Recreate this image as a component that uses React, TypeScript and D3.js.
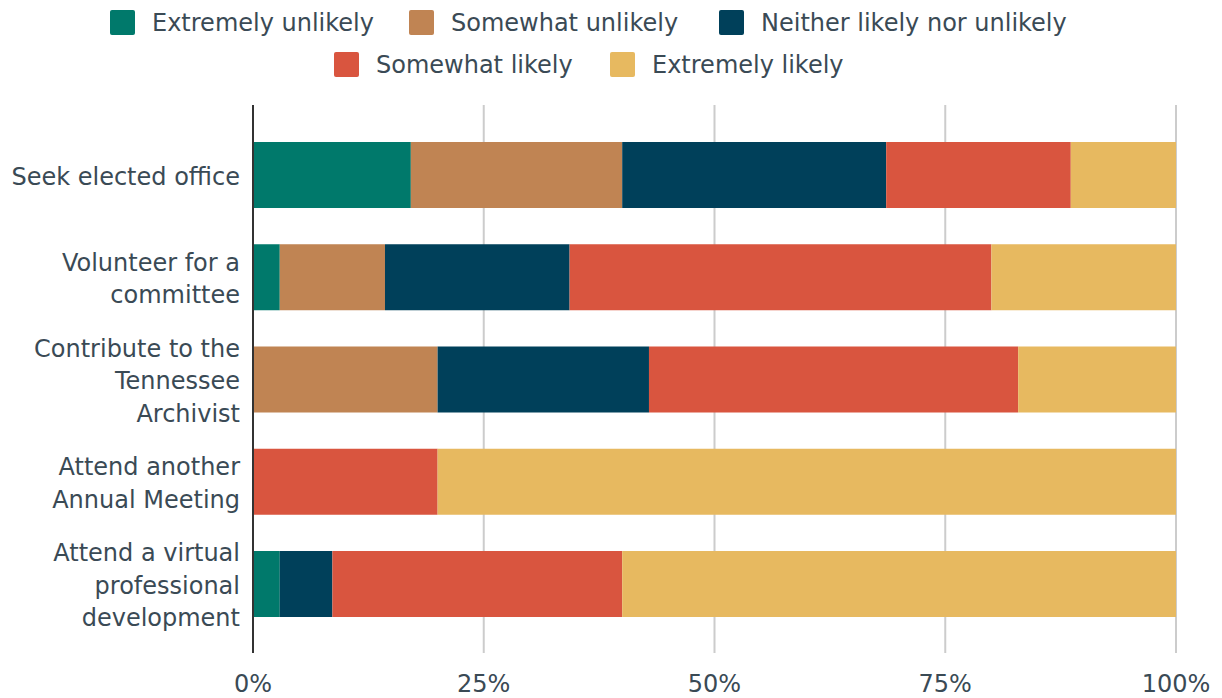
import React from "react";
import * as d3 from "d3";

const categories = [
  "Seek elected office",
  "Volunteer for a committee",
  "Contribute to the Tennessee Archivist",
  "Attend another Annual Meeting",
  "Attend a virtual professional development",
];
const categoryLines = [
  ["Seek elected office"],
  ["Volunteer for a", "committee"],
  ["Contribute to the", "Tennessee", "Archivist"],
  ["Attend another", "Annual Meeting"],
  ["Attend a virtual", "professional", "development"],
];
const seriesNames = [
  "Extremely unlikely",
  "Somewhat unlikely",
  "Neither likely nor unlikely",
  "Somewhat likely",
  "Extremely likely",
];
const colors = ["#00796B", "#C08453", "#00405A", "#D9553F", "#E7B960"];
const extremelyUnlikely = [17.1, 2.9, 0, 0, 2.9];
const somewhatUnlikely = [22.9, 11.4, 20, 0, 0];
const neither = [28.6, 20, 22.9, 0, 5.7];
const somewhatLikely = [20, 45.7, 40, 20, 31.4];
const extremelyLikely = [11.4, 20, 17.1, 80, 60];
const xTicks = [0, 25, 50, 75, 100];

const series = [extremelyUnlikely, somewhatUnlikely, neither, somewhatLikely, extremelyLikely];

export default function App() {
  const W = 1222, H = 698;
  const textColor = "#3a4a55";
  const font = "'DejaVu Sans', Verdana, sans-serif";
  const fs = 24;
  const x = d3.scaleLinear().domain([0, 100]).range([253, 1176]);
  const y = d3.scaleBand().domain(categories).range([142, 617]).paddingInner(0.3545).paddingOuter(0);

  const rows = categories.map((c, i) => {
    const vals = series.map((s) => s[i]);
    const total = d3.sum(vals);
    let acc = 0;
    return vals.map((v, k) => {
      const x0 = (acc / total) * 100;
      acc += v;
      const x1 = (acc / total) * 100;
      return { c, k, x0, x1 };
    });
  });

  const legendRows = [
    [0, 1, 2],
    [3, 4],
  ];
  const legendItemWidths: Record<number, number> = { 0: 299, 1: 310, 2: 0, 3: 276, 4: 0 };

  return (
    <svg width={W} height={H} style={{ position: "absolute", left: 0, top: 0, background: "#fff" }} fontFamily={font}>
      {/* gridlines */}
      {xTicks.slice(1).map((t) => (
        <line key={t} x1={x(t)} x2={x(t)} y1={105} y2={653} stroke="#cccccc" strokeWidth={2} />
      ))}
      {/* bars */}
      {rows.map((segs) =>
        segs.map((s) =>
          s.x1 - s.x0 > 0 ? (
            <rect
              key={s.c + s.k}
              x={x(s.x0)}
              y={y(s.c)!}
              width={x(s.x1) - x(s.x0)}
              height={y.bandwidth()}
              fill={colors[s.k]}
            />
          ) : null
        )
      )}
      {/* axis line */}
      <line x1={x(0)} x2={x(0)} y1={105} y2={653} stroke="#333" strokeWidth={2} />
      {/* x tick labels */}
      {xTicks.map((t) => (
        <text key={t} x={x(t)} y={692} textAnchor="middle" fontSize={fs} fill={textColor}>
          {t}%
        </text>
      ))}
      {/* category labels */}
      {categories.map((c, i) => {
        const lines = categoryLines[i];
        const cy = y(c)! + y.bandwidth() / 2 + 1.5;
        const lh = 32.5;
        const start = cy - ((lines.length - 1) * lh) / 2;
        return (
          <text key={c} x={240} textAnchor="end" fontSize={fs} fill={textColor}>
            {lines.map((l, j) => (
              <tspan key={j} x={240} y={start + j * lh} dy="0.35em">
                {l}
              </tspan>
            ))}
          </text>
        );
      })}
      {/* legend */}
      {legendRows.map((row, ri) => {
        const cy = ri === 0 ? 22 : 64;
        const startX = ri === 0 ? 110 : 334;
        let cx = startX;
        return row.map((k) => {
          const gx = cx;
          cx += legendItemWidths[k];
          return (
            <g key={k}>
              <rect x={gx} y={cy - 12} width={25} height={25} rx={2} fill={colors[k]} />
              <text x={gx + 42} y={cy + 1} dy="0.35em" fontSize={fs} fill={textColor}>
                {seriesNames[k]}
              </text>
            </g>
          );
        });
      })}
    </svg>
  );
}
